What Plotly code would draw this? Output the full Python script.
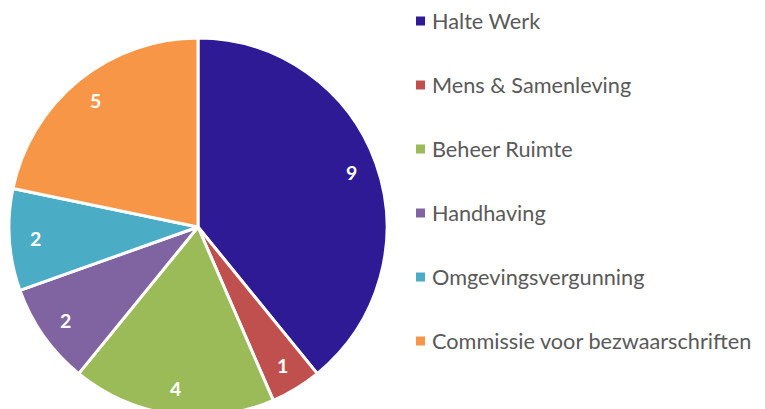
import math
import plotly.graph_objects as go

categories = ["Halte Werk", "Mens & Samenleving", "Beheer Ruimte", "Handhaving",
              "Omgevingsvergunning", "Commissie voor bezwaarschriften"]
values = [9, 1, 4, 2, 2, 5]
colors = ["#2E1A95", "#C0504D", "#9BBB59", "#8064A2", "#4BACC6", "#F79646"]

# page is offset by the body margin (8px); figure drawn in its own pixel frame
W, H = 757, 409
OFF = 8


def px(x):  # page x -> paper x
    return (x - OFF) / W


def py(y):  # page y -> paper y
    return 1 - (y - OFF) / H


CX, CY, R = 198, 227, 189

fig = go.Figure()
fig.add_trace(go.Pie(
    labels=categories, values=values, sort=False, direction="clockwise", rotation=0,
    marker=dict(colors=colors, line=dict(color="white", width=3)),
    textinfo="none", showlegend=False, hoverinfo="label+value",
    domain=dict(x=[px(CX - R), px(CX + R)], y=[max(0, py(CY + R)), py(CY - R)]),
))

# data labels placed radially at the slice middles
total = sum(values)
cum = 0
annotations = []
for v in values:
    mid = (cum + v / 2) / total * 2 * math.pi
    cum += v
    lx = CX + 0.86 * R * math.sin(mid)
    ly = CY - 0.86 * R * math.cos(mid)
    annotations.append(dict(x=px(lx), y=py(ly), xref="paper", yref="paper", text=str(v),
                            showarrow=False, xanchor="center", yanchor="middle",
                            font=dict(family="Lato", size=19.5, color="white", weight="bold")))

# legend
shapes = []
for i, (c, col) in enumerate(zip(categories, colors)):
    yc = 21 + 64 * i
    shapes.append(dict(type="rect", xref="paper", yref="paper",
                       x0=px(416), x1=px(425), y0=py(yc - 4.5), y1=py(yc + 4.5),
                       fillcolor=col, line=dict(width=0)))
    annotations.append(dict(x=px(430), y=py(yc), xref="paper", yref="paper", text=c,
                            showarrow=False, xanchor="left", yanchor="middle",
                            font=dict(family="Lato", size=21.7, color="#595959")))

fig.update_layout(
    width=W, height=H, margin=dict(l=0, r=0, t=0, b=0),
    paper_bgcolor="white", plot_bgcolor="white",
    annotations=annotations, shapes=shapes,
)
fig.write_html("out.html")
